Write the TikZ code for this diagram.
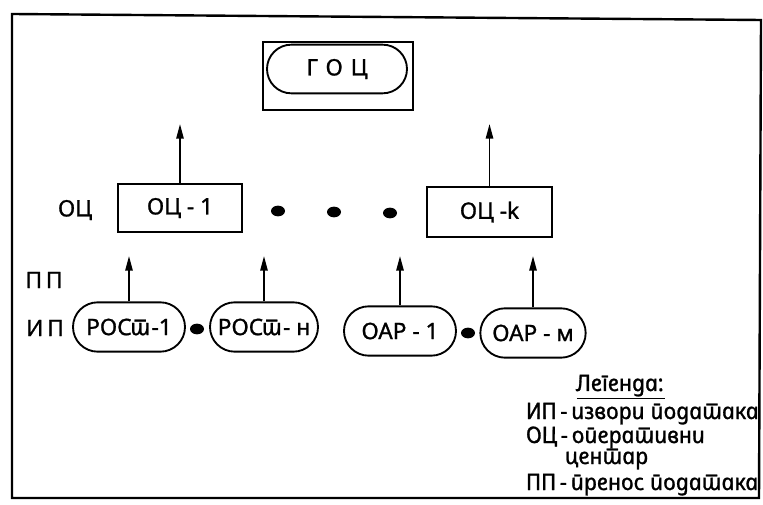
\documentclass[tikz,border=0pt]{standalone}
\usepackage{fontspec}
\setmainfont[FakeBold=1.2]{Noto Sans}
\newfontfamily\mfont[FakeBold=1.2]{Noto Sans}
\newfontfamily\legfont[Script=Cyrillic,Language=Serbian,FakeSlant=-0.21,FakeBold=1.2]{Noto Sans Italic}
\usetikzlibrary{shapes.misc,shapes.geometric,arrows.meta}
\tikzset{
  frame/.style={line width=1.8pt},
  ocbox/.style={draw, line width=1.4pt, minimum width=93pt, minimum height=36pt, inner sep=0pt, font=\mfont\fontsize{17}{20}\selectfont},
  pill/.style={draw, line width=1.4pt, rounded rectangle, minimum width=84pt, minimum height=37pt, inner sep=0pt, font=\mfont\fontsize{17}{20}\selectfont},
  lbl/.style={font=\mfont\fontsize{17}{20}\selectfont, inner sep=0pt},
  legtxt/.style={font=\legfont\fontsize{17}{19}\selectfont, inner sep=0pt, anchor=base west},
  arr/.style={line width=1.3pt, -{Triangle[length=11pt,width=5.5pt]}},
  dotn/.style={ellipse, fill, minimum width=10.5pt, minimum height=8pt, inner sep=0pt},
}
\begin{document}
\begin{tikzpicture}[x=0.75pt,y=-0.75pt]
\useasboundingbox (0,0) rectangle (763,505);
\draw[frame] (12,14) -- (761,20) -- (759,498) -- (12,498) -- cycle;
% GOC
\node[draw, line width=1.7pt, minimum width=112.5pt, minimum height=51pt, inner sep=0pt] (gbox) at (338,76) {};
\node[pill, minimum width=105pt, minimum height=36.5pt] (goc) at (337,69) {\addfontfeatures{LetterSpace=35}ГОЦ};
% OC level
\node[lbl] (locl) at (75,210) {ОЦ};
\node[ocbox] (oc1) at (180,208) {ОЦ - 1};
\node[ocbox, minimum width=93.75pt, minimum height=37.5pt] (ock) at (489.5,212) {ОЦ -k};
\node[dotn] (d1) at (278,211) {};
\node[dotn] (d2) at (334,212) {};
\node[dotn] (d3) at (390,213) {};
\coordinate (t1) at (180,124);
\coordinate (tk) at (489.5,124);
\draw[arr] (oc1.north) -- (t1);
\draw[arr] (ock.north) -- (tk);
% PP / IP labels
\node[lbl] (lpp) at (44,280) {П\,П};
\node[lbl] (lip) at (45,328) {И\,П};
% sources
\node[pill] (r1) at (129,327) {РОС{\legfont т}-1};
\node[pill, minimum width=81pt] (r2) at (264,327) {РОС{\legfont т}- н};
\node[pill] (o1) at (400,331) {ОАР - 1};
\node[pill, minimum width=79pt] (o2) at (533,333) {ОАР - м};
\node[dotn] (d4) at (197,329) {};
\node[dotn] (d5) at (468,333) {};
\coordinate (a1) at (129,256);
\coordinate (a2) at (264,256);
\coordinate (a3) at (400,256);
\coordinate (a4) at (533,256);
\draw[arr] (r1.north) -- (a1);
\draw[arr] (r2.north) -- (a2);
\draw[arr] (o1.north) -- (a3);
\draw[arr] (o2.north) -- (a4);
% legend
\node[font=\legfont\fontsize{17}{19}\selectfont, inner sep=0pt, anchor=base] (lt) at (621,391) {\underline{Легенда:}};
\node[legtxt] (l1) at (527,419) {ИП\,-\,извори података};
\node[legtxt] (l2) at (527,443) {ОЦ\,-\,оперативни};
\node[legtxt] (l3) at (566,464) {центар};
\node[legtxt] (l4) at (527,490) {ПП\,-\,пренос података};
\end{tikzpicture}
\end{document}
